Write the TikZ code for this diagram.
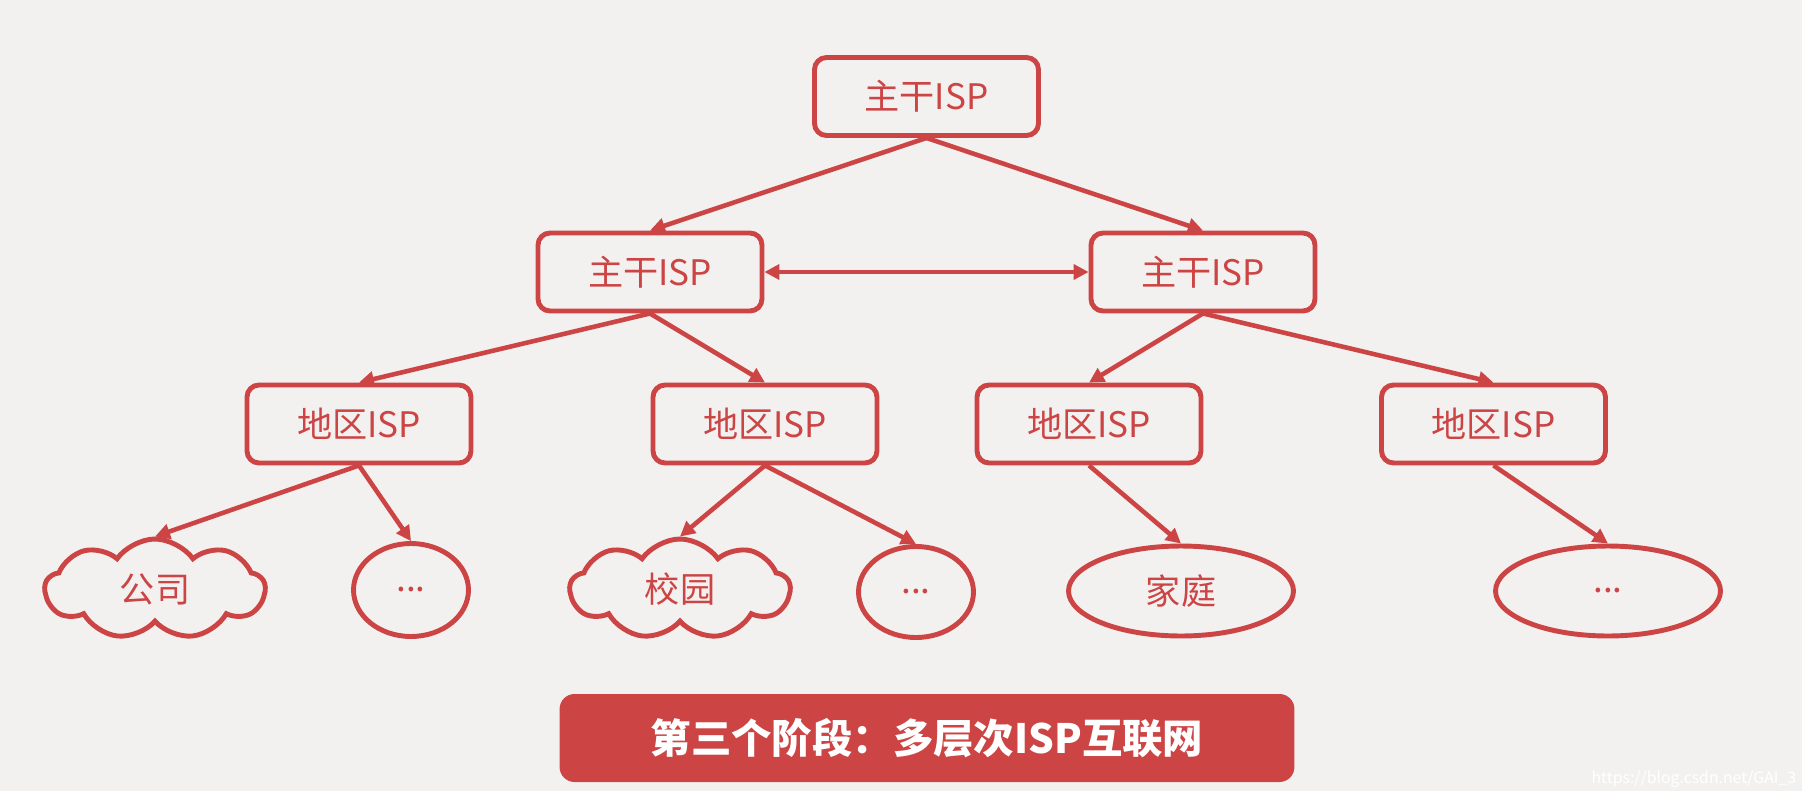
\documentclass[tikz,border=0pt]{standalone}
\usepackage{fontspec}
\setmainfont{Noto Sans CJK SC}
\usetikzlibrary{arrows.meta,shapes.geometric,shapes.symbols}
\definecolor{ispred}{HTML}{CC4444}
\definecolor{bgcol}{HTML}{F2F1F0}

\begin{document}
\begin{tikzpicture}[x=0.02cm, y=-0.02cm,
		isp/.style={draw=ispred, line width=2.8pt, rounded corners=0.24cm, minimum width=4.48cm, minimum height=1.56cm, text=ispred, font=\fontsize{20}{24}\selectfont},
		user/.style={draw=ispred, line width=2.8pt, ellipse, text=ispred, inner sep=0pt, font=\fontsize{20}{24}\selectfont},
		net/.style={draw=ispred, line width=2.8pt, cloud, cloud puffs=9, cloud puff arc=110, aspect=2.1, minimum width=4.4cm, minimum height=2cm, inner sep=0pt, text=ispred, font=\fontsize{20}{24}\selectfont},
		link/.style={draw=ispred, line width=2.6pt, -{Triangle[length=0.3cm, width=0.3cm]}}]

		\fill[bgcol] (0,0) rectangle (1802,791);
		\useasboundingbox (0,0) rectangle (1802,791);

		% backbone
		\node[isp] (top) at (926.5,96.5) {主干ISP};
		\node[isp] (bbl) at (650,272) {主干ISP};
		\node[isp] (bbr) at (1203,272) {主干ISP};

		% regional
		\node[isp] (rega) at (359,424) {地区ISP};
		\node[isp] (regb) at (765,424) {地区ISP};
		\node[isp] (regc) at (1089,424) {地区ISP};
		\node[isp] (regd) at (1493.5,424) {地区ISP};

		% users
		\node[net] (firm) at (155,589) {公司};
		\node[user, minimum width=2.3cm, minimum height=1.86cm] (usra) at (411,590) {...};
		\node[net] (campus) at (680,589) {校园};
		\node[user, minimum width=2.3cm, minimum height=1.82cm] (usrb) at (916,592) {...};
		\node[user, minimum width=4.5cm, minimum height=1.8cm] (home) at (1181,591) {家庭};
		\node[user, minimum width=4.5cm, minimum height=1.8cm] (usrc) at (1608,591) {...};

		\draw[link] (top.south) -- (bbl.north);
		\draw[link] (top.south) -- (bbr.north);
		\draw[link, {Triangle[length=0.3cm, width=0.3cm]}-{Triangle[length=0.3cm, width=0.3cm]}] (bbl.east) -- (bbr.west);

		\draw[link] (bbl.south) -- (rega.north);
		\draw[link] (bbl.south) -- (regb.north);
		\draw[link] (bbr.south) -- (regc.north);
		\draw[link] (bbr.south) -- (regd.north);

		\draw[link] (rega.south) -- (firm.north);
		\draw[link] (rega.south) -- (usra.north);
		\draw[link] (regb.south) -- (campus.north);
		\draw[link] (regb.south) -- (usrb.north);
		\draw[link] (regc.south) -- (home.north);
		\draw[link] (regd.south) -- (usrc.north);

		\node[fill=ispred, rounded corners=0.3cm, minimum width=14.7cm, minimum height=1.76cm, text=white, font=\bfseries\fontsize{23}{28}\selectfont] (stage) at (927,738) {第三个阶段：多层次ISP互联网};

		\node[anchor=south east, text=white, inner sep=2pt, font=\fontsize{9}{11}\selectfont] (mark) at (1800,791) {https://blog.csdn.net/GAI\_3};
	\end{tikzpicture}
\end{document}
